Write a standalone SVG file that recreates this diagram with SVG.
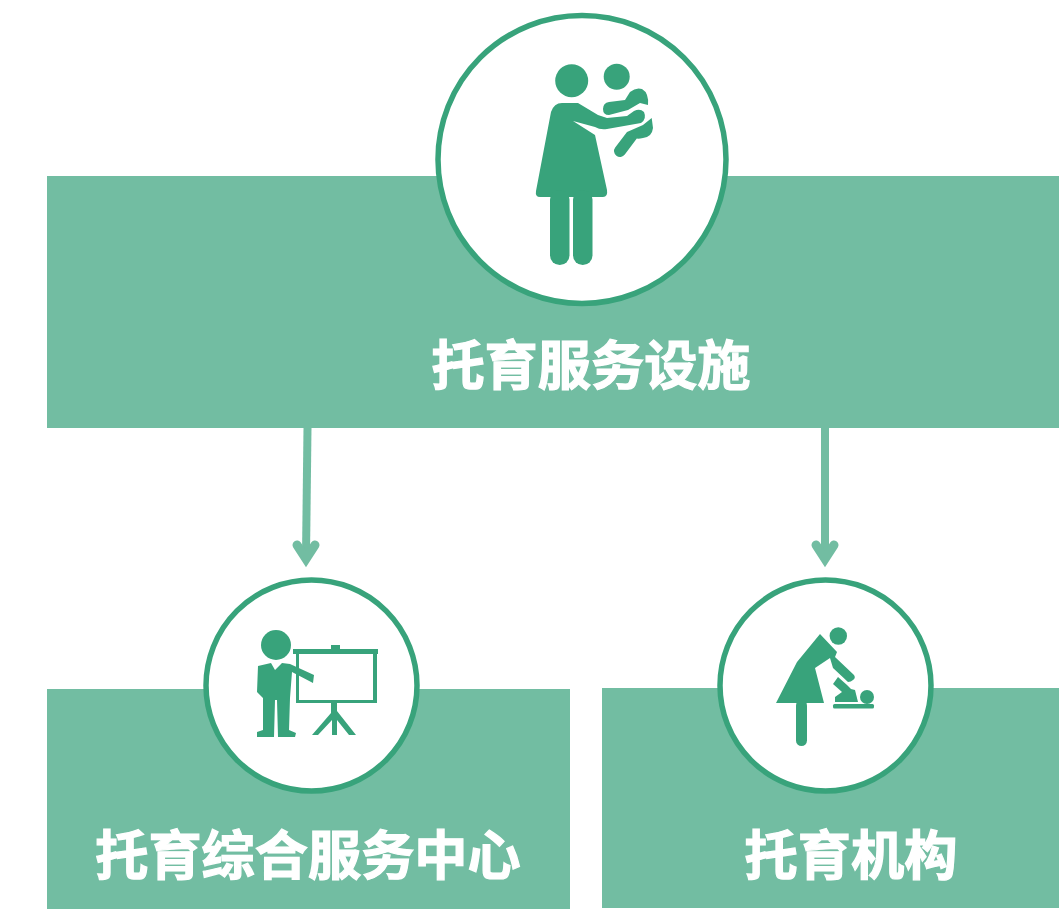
<svg xmlns="http://www.w3.org/2000/svg" width="1059" height="909" viewBox="0 0 1059 909">
<style>
.box{fill:#72bda2}
.ring{fill:#fff;stroke:#38a37b;stroke-width:5.500}
.ic{fill:#38a37b}
.cn{fill:none;stroke:#72bda2;stroke-width:8}
.head{fill:none;stroke:#72bda2;stroke-width:9;stroke-linecap:round;stroke-linejoin:miter}
text{fill:#fff;stroke:#fff;stroke-width:1.200;font-family:"Noto Sans CJK SC","Noto Sans CJK JP",sans-serif;font-weight:700;text-anchor:middle;font-size:53.200px}
</style>
<g id="connectors">
<path class="cn" d="M307.500 428L306 556"/>
<path class="head" d="M297 545L306 559L315 545"/>
<path class="cn" d="M825 428L825 556"/>
<path class="head" d="M816 545L825 559L834 545"/>
</g>
<g id="node-main">
<rect class="box" x="47" y="176" width="1012" height="252"/>
<circle class="ring" cx="582" cy="159.500" r="144"/>
<g id="icon-mother">
<circle class="ic" cx="571.700" cy="80.700" r="16.500"/>
<circle class="ic" cx="616.700" cy="76.700" r="13"/>
<path class="ic" d="M562 103L578 103L598 115L607 118L627 116L634 111Q640 108 644 112Q647 119 641 123L607 129Q600 130 595 127L573 121L595 135L607 190Q608 197 603 197L540 197Q535 197 536 191L551 112Q554 103 562 103Z"/>
<rect class="ic" x="550" y="190" width="19.500" height="75" rx="9.750"/>
<rect class="ic" x="573" y="190" width="19.500" height="75" rx="9.750"/>
<path class="ic" d="M609 102L625 100L630 92Q636 87 642 89Q649 93 648 105L640 103L628 110L609 115Q603 115 603 109Q603 103 609 102Z"/>
<path class="ic" d="M627 132L643 125L651.700 118L653 128Q652 137 643 138Q639 139 636.800 138.600L624.800 154.600A6 6 0 0 1 615.200 147.400Z"/>
</g>
<text x="591" y="385">托育服务设施</text>
</g>
<g id="node-center">
<rect class="box" x="47" y="689" width="523" height="220"/>
<circle class="ring" cx="311.500" cy="685.500" r="105.500"/>
<g id="icon-teacher">
<circle class="ic" cx="276" cy="645" r="15"/>
<path class="ic" d="M258 666L271 663L275 670L282 663L290 664L314 675L313 683L292 672L290 698L289 730L296 733L295 737L278 737L277 700L275 700L274 737L257 737L257 732L263 730L263 698L257 692Z"/>
<path class="ic" fill-rule="evenodd" d="M331 645H340V649H378V654H377V703H337V711L356 735H349L337 720V735H332V720L318 735H312L331 713V703H296V654H293V649H331ZM299 654V700H373V654Z"/>
</g>
<text x="308" y="875">托育综合服务中心</text>
</g>
<g id="node-org">
<rect class="box" x="602" y="688" width="457" height="220"/>
<circle class="ring" cx="825.500" cy="685.500" r="105.500"/>
<g id="icon-changing">
<circle class="ic" cx="838.300" cy="636" r="8.700"/>
<path class="ic" d="M820 634L837 652L835 657L854 675Q856 678 853 680Q851 682 848 682L833 668L830 658L815 668L824 703H776L797 662Z"/>
<rect class="ic" x="796" y="700" width="11" height="46" rx="5.500"/>
<circle class="ic" cx="867" cy="697" r="7"/>
<path class="ic" d="M838 677L847 685L851 689L855 690L858 702H835V697L842 692L833 684Z"/>
<rect class="ic" x="833" y="704" width="41" height="4.500" rx="1.500"/>
</g>
<text x="851" y="875">托育机构</text>
</g>
</svg>
